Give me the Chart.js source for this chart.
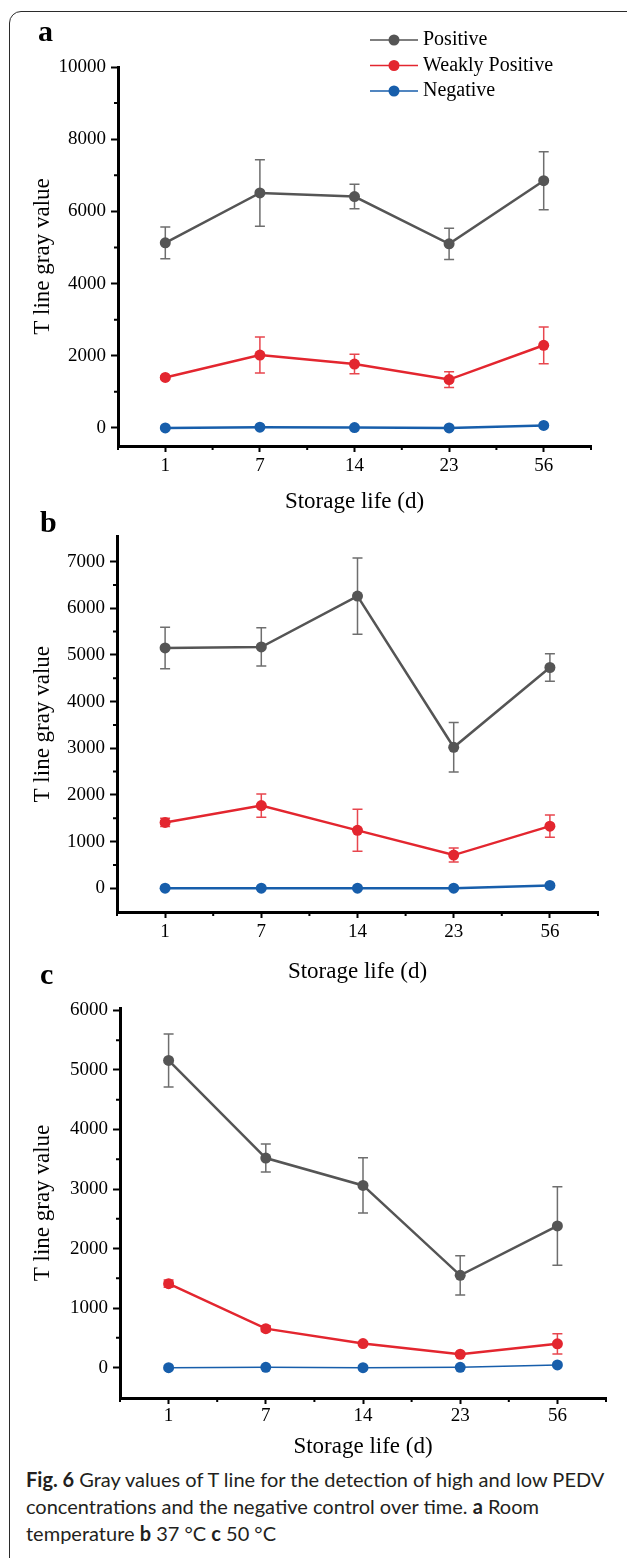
<!DOCTYPE html>
<html>
<head>
<meta charset="utf-8">
<script src="https://cdn.jsdelivr.net/npm/chart.js@4.4.0/dist/chart.umd.min.js"></script>
<style>
body{margin:0;width:627px;height:1558px;position:relative;overflow:hidden;background:#fff;}
.frame{position:absolute;left:9px;top:11px;width:660px;height:1600px;border:1.5px solid #2b2b2b;border-radius:12px;}
canvas{position:absolute;left:0;}
.lab{position:absolute;font:bold 30px "Liberation Serif";line-height:30px;color:#000;}
.cap{position:absolute;left:26px;top:1466px;width:598px;font:20px Lato;line-height:27px;color:#231f20;}
.cap b{font-weight:bold;}
</style>
</head>
<body>
<div class="frame"></div>
<canvas id="chartA" width="627" height="520" style="top:0px"></canvas>
<canvas id="chartB" width="627" height="470" style="top:520px"></canvas>
<canvas id="chartC" width="627" height="475" style="top:990px"></canvas>
<div class="lab" style="left:38px;top:16px">a</div>
<div class="lab" style="left:40px;top:507px">b</div>
<div class="lab" style="left:40px;top:959px">c</div>
<div class="cap"><b>Fig. 6</b> Gray values of T line for the detection of high and low PEDV concentrations and the negative control over time. <b>a</b> Room temperature <b>b</b> 37 °C <b>c</b> 50 °C</div>
<script>
// data
var days = ["1", "7", "14", "23", "56"];
var seriesNames = ["Positive", "Weakly Positive", "Negative"];

// a: room temperature
var posA = [5130, 6510, 6410, 5100, 6850];
var posErrA = [440, 920, 340, 430, 805];
var weakA = [1400, 2020, 1770, 1340, 2290];
var weakErrA = [40, 500, 270, 220, 510];
var negA = [0, 20, 10, 0, 70];
var yTicksA = [0, 2000, 4000, 6000, 8000, 10000];

// b: 37 C
var posB = [5150, 5170, 6260, 3020, 4730];
var posErrB = [445, 410, 815, 530, 295];
var weakB = [1410, 1770, 1240, 710, 1330];
var weakErrB = [90, 250, 450, 150, 240];
var negB = [0, 0, 0, 0, 60];
var yTicksB = [0, 1000, 2000, 3000, 4000, 5000, 6000, 7000];

// c: 50 C
var posC = [5160, 3520, 3060, 1550, 2380];
var posErrC = [445, 235, 465, 330, 660];
var weakC = [1410, 655, 405, 225, 400];
var weakErrC = [60, 50, 20, 20, 170];
var negC = [0, 5, 0, 5, 45];
var yTicksC = [0, 1000, 2000, 3000, 4000, 5000, 6000];

var GRAY = "#555555", RED = "#e3262f", BLUE = "#175eab";
var FONT = "Liberation Serif";
Chart.defaults.font.family = FONT;
Chart.defaults.color = "#000";

//error bars, drawn under the markers
var errorBars = {
    id: "errorBars",
    beforeDatasetsDraw: function (chart) {
        var ctx = chart.ctx, xs = chart.scales.x, ys = chart.scales.y;
        chart.data.datasets.forEach(function (ds) {
            if (!ds.errors) { return; }
            ctx.save();
            ctx.strokeStyle = ds.errorColor;
            ctx.lineWidth = 1.5;
            ds.data.forEach(function (v, i) {
                var x = xs.getPixelForValue(i);
                var y1 = ys.getPixelForValue(v + ds.errors[i]);
                var y2 = ys.getPixelForValue(v - ds.errors[i]);
                ctx.beginPath();
                ctx.moveTo(x, y1); ctx.lineTo(x, y2);
                ctx.moveTo(x - 5, y1); ctx.lineTo(x + 5, y1);
                ctx.moveTo(x - 5, y2); ctx.lineTo(x + 5, y2);
                ctx.stroke();
            });
            ctx.restore();
        });
    }
};

//short minor ticks between the labelled ones
var minorTicks = {
    id: "minorTicks",
    afterDraw: function (chart) {
        var ctx = chart.ctx, xs = chart.scales.x, ys = chart.scales.y;
        var yt = chart.options.plugins.minorTicks.yTicks;
        ctx.save();
        ctx.strokeStyle = "#000";
        ctx.lineWidth = 2;
        ctx.beginPath();
        for (var i = -0.5; i <= days.length - 0.5; i += 1) {
            var x = xs.getPixelForValue(i);
            ctx.moveTo(x, xs.top); ctx.lineTo(x, xs.top + 4);
        }
        for (var j = 0; j < yt.length - 1; j++) {
            var y = ys.getPixelForValue((yt[j] + yt[j + 1]) / 2);
            ctx.moveTo(ys.right, y); ctx.lineTo(ys.right - 4, y);
        }
        ctx.stroke();
        ctx.restore();
    }
};

//legend inside panel a
var innerLegend = {
    id: "innerLegend",
    afterDraw: function (chart) {
        var o = chart.options.plugins.innerLegend;
        if (!o.show) { return; }
        var ctx = chart.ctx;
        ctx.save();
        ctx.font = "20px " + FONT;
        ctx.textBaseline = "middle";
        chart.data.datasets.forEach(function (ds, i) {
            var y = o.top + i * o.row;
            ctx.strokeStyle = ds.borderColor;
            ctx.lineWidth = 1.5;
            ctx.beginPath();
            ctx.moveTo(o.left, y); ctx.lineTo(o.left + 48, y);
            ctx.stroke();
            ctx.fillStyle = ds.borderColor;
            ctx.beginPath();
            ctx.arc(o.left + 24, y, 5.5, 0, Math.PI * 2);
            ctx.fill();
            ctx.fillStyle = "#000";
            ctx.fillText(ds.label, o.left + 53, y);
        });
        ctx.restore();
    }
};

var makePanel = function (id, p) {
    var ds = function (label, data, color, width, errs) {
        return {
            label: label, data: data, borderColor: color, backgroundColor: color,
            borderWidth: width, pointRadius: 5.5, pointBorderWidth: 0,
            pointBackgroundColor: color, tension: 0,
            errors: errs, errorColor: color === GRAY ? "#6e6e6e" : "#e8464e"
        };
    };
    return new Chart(document.getElementById(id), {
        type: "line",
        data: {
            labels: days,
            datasets: [
                ds(seriesNames[0], p.pos, GRAY, 2.5, p.posErr),
                ds(seriesNames[1], p.weak, RED, 2.5, p.weakErr),
                ds(seriesNames[2], p.neg, BLUE, p.negWidth, null)
            ]
        },
        options: {
            responsive: false,
            animation: false,
            layout: { padding: { top: p.top, right: 627 - p.right, left: 0, bottom: 0 } },
            plugins: {
                legend: { display: false },
                tooltip: { enabled: false },
                minorTicks: { yTicks: p.yTicks },
                innerLegend: { show: p.legend, left: 370, top: 40, row: 25.5 }
            },
            scales: {
                x: {
                    offset: true,
                    afterFit: function (s) { s.height = p.xHeight; },
                    border: { color: "#000", width: 3 },
                    grid: { drawOnChartArea: false, drawTicks: true, tickLength: 6, tickWidth: 2, tickColor: "#000" },
                    ticks: { font: { size: 19 }, padding: p.xPad, maxRotation: 0 },
                    title: { display: true, text: "Storage life (d)", font: { size: 23 }, padding: { top: 0, bottom: p.xTitlePad } }
                },
                y: {
                    min: p.yMin, max: p.yMax,
                    afterFit: function (s) { s.width = p.left; },
                    afterBuildTicks: function (s) { s.ticks = p.yTicks.map(function (v) { return { value: v }; }); },
                    border: { color: "#000", width: 3 },
                    grid: { drawOnChartArea: false, drawTicks: true, tickLength: 7, tickWidth: 2, tickColor: "#000" },
                    ticks: { font: { size: 19 }, padding: 5, callback: function (v) { return String(v); } },
                    title: { display: true, text: "T line gray value", font: { size: 23 }, padding: { top: 29, bottom: 0 } }
                }
            }
        },
        plugins: [errorBars, minorTicks, innerLegend]
    });
};

makePanel("chartA", {
    pos: posA, posErr: posErrA, weak: weakA, weakErr: weakErrA, neg: negA, negWidth: 2.5,
    yTicks: yTicksA, yMin: -500, yMax: 10000, legend: true,
    top: 67, left: 118, right: 591, xHeight: 520 - 446, xPad: 3, xTitlePad: 4
});
makePanel("chartB", {
    pos: posB, posErr: posErrB, weak: weakB, weakErr: weakErrB, neg: negB, negWidth: 2.5,
    yTicks: yTicksB, yMin: -510, yMax: 7540, legend: false,
    top: 7, left: 117, right: 598, xHeight: 470 - 392, xPad: 3, xTitlePad: 4
});
makePanel("chartC", {
    pos: posC, posErr: posErrC, weak: weakC, weakErr: weakErrC, neg: negC, negWidth: 1.5,
    yTicks: yTicksC, yMin: -510, yMax: 6040, legend: false,
    top: 18, left: 120, right: 606, xHeight: 475 - 408, xPad: 1, xTitlePad: 4
});
</script>
</body>
</html>
